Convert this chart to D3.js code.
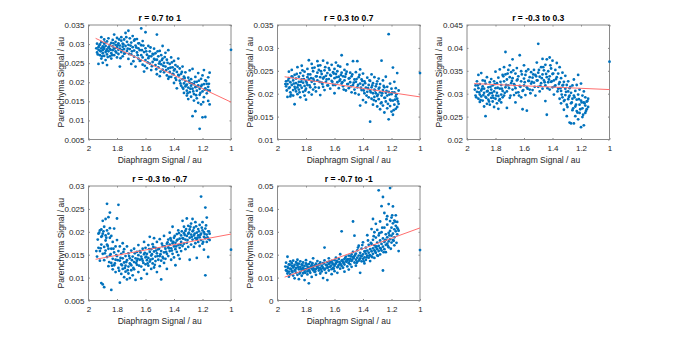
<!DOCTYPE html>
<html>
<head>
<meta charset="utf-8">
<script src="https://cdn.jsdelivr.net/npm/d3@7"></script>
<style>
  body { margin: 0; background: #fff; }
  svg { display: block; font-family: "Liberation Sans", Arial, sans-serif; }
  .tick text { fill: #262626; font-size: 8px; }
</style>
</head>
<body>
<svg id="chart" width="675" height="338"></svg>
<script>
// 5 panels: diaphragm vs parenchyma signal, grouped by correlation range.
// values (approximate)
const titles = ["r = 0.7 to 1", "r = 0.3 to 0.7", "r = -0.3 to 0.3", "r = -0.3 to -0.7", "r = -0.7 to -1"];
const xTicks = [2, 1.8, 1.6, 1.4, 1.2, 1];
const yTicks1 = [0.005, 0.01, 0.015, 0.02, 0.025, 0.03, 0.035];
const yTicks2 = [0.01, 0.015, 0.02, 0.025, 0.03, 0.035];
const yTicks3 = [0.02, 0.025, 0.03, 0.035, 0.04, 0.045];
const yTicks4 = [0.005, 0.01, 0.015, 0.02, 0.025, 0.03];
const yTicks5 = [0, 0.01, 0.02, 0.03, 0.04, 0.05];

// least squares line ends [x, y]
const fit1 = [[1.95, .0315], [1.0, .0148]];
const fit2 = [[1.95, .0237], [1.0, .0193]];
const fit3 = [[1.95, .0322], [1.0, .0309]];
const fit4 = [[1.95, .0140], [1.0, .0195]];
const fit5 = [[1.95, .0102], [1.0, .0317]];

const pts1 = [
[1.94,.0278],[1.93,.0285],[1.93,.0292],[1.92,.0271],[1.92,.0299],[1.92,.0283],[1.91,.0262],[1.91,.0289],[1.91,.0305],[1.90,.0276],[1.90,.0294],[1.90,.0251],[1.90,.0284],[1.89,.0269],[1.89,.0301],[1.89,.0288],[1.89,.0312],[1.88,.0279],[1.88,.0295],[1.88,.0258],[1.87,.0286],[1.87,.0307],[1.87,.0273],[1.86,.0291],[1.86,.0281],[1.86,.0315],[1.85,.0268],[1.85,.0298],[1.85,.0287],[1.84,.0303],[1.84,.0276],[1.84,.0262],[1.83,.0294],[1.83,.0284],[1.83,.0311],[1.82,.0325],[1.82,.0289],[1.82,.0271],[1.81,.0298],[1.81,.0306],[1.81,.0281],[1.80,.0292],[1.80,.0265],[1.80,.0316],[1.79,.0285],[1.79,.0302],[1.79,.0274],[1.78,.0296],[1.78,.0241],[1.78,.0288],[1.77,.0309],[1.77,.0279],[1.77,.0318],[1.76,.0293],[1.76,.0268],[1.76,.0301],[1.75,.0287],[1.75,.0312],[1.75,.0275],[1.93,.0248],[1.87,.0245],[1.94,.0301],[1.91,.0318],
[1.74,.0329],[1.74,.0295],[1.73,.0282],[1.73,.0306],[1.72,.0335],[1.72,.0261],[1.72,.0298],[1.71,.0315],[1.71,.0287],[1.70,.0273],[1.70,.0304],[1.70,.0248],[1.69,.0292],[1.69,.0321],[1.68,.0267],[1.68,.0283],[1.68,.0309],[1.67,.0241],[1.67,.0296],[1.66,.0278],[1.66,.0313],[1.65,.0262],[1.65,.0289],[1.65,.0302],[1.64,.0256],[1.64,.0284],[1.63,.0341],[1.63,.0271],[1.63,.0297],[1.62,.0265],[1.62,.0246],[1.62,.0308],[1.61,.0279],[1.61,.0228],[1.60,.0331],[1.60,.0289],[1.60,.0258],[1.59,.0272],[1.59,.0237],[1.58,.0295],[1.58,.0263],[1.57,.0249],[1.57,.0281],[1.56,.0268],[1.56,.0232],[1.55,.0274],[1.55,.0253],
[1.54,.0261],[1.54,.0288],[1.53,.0245],[1.53,.0276],[1.52,.0325],[1.52,.0259],[1.52,.0221],[1.51,.0268],[1.51,.0239],[1.50,.0282],[1.50,.0254],[1.50,.0216],[1.49,.0247],[1.49,.0271],[1.48,.0233],[1.48,.0262],[1.48,.0295],[1.47,.0251],[1.47,.0226],[1.46,.0241],[1.46,.0277],[1.45,.0218],[1.45,.0259],[1.44,.0236],[1.44,.0284],[1.44,.0209],[1.43,.0248],[1.43,.0227],[1.42,.0265],[1.42,.0214],[1.41,.0239],[1.41,.0222],[1.40,.0256],[1.40,.0198],[1.40,.0231],[1.39,.0211],[1.39,.0245],[1.38,.0227],[1.38,.0184],[1.37,.0219],[1.37,.0262],[1.36,.0204],[1.36,.0236],[1.35,.0191],[1.35,.0222],
[1.34,.0208],[1.34,.0186],[1.34,.0241],[1.33,.0197],[1.33,.0215],[1.33,.0172],[1.32,.0189],[1.32,.0226],[1.32,.0203],[1.31,.0178],[1.31,.0194],[1.31,.0165],[1.30,.0212],[1.30,.0186],[1.30,.0156],[1.29,.0199],[1.29,.0231],[1.29,.0174],[1.28,.0191],[1.28,.0162],[1.28,.0208],[1.27,.0183],[1.27,.0111],[1.27,.0235],[1.26,.0195],[1.26,.0169],[1.26,.0152],[1.25,.0187],[1.25,.0124],[1.25,.0214],[1.24,.0178],[1.24,.0201],[1.24,.0158],[1.23,.0192],[1.23,.0146],[1.23,.0224],[1.22,.0078],[1.22,.0183],[1.22,.0167],[1.21,.0209],[1.21,.0142],[1.21,.0189],[1.20,.0108],[1.20,.0176],[1.20,.0218],[1.19,.0195],[1.19,.0161],[1.19,.0232],[1.18,.0109],[1.18,.0184],[1.18,.0205],[1.17,.0171],[1.17,.0196],[1.16,.0151],[1.16,.0188],[1.16,.0213],[1.15,.0225],[1.15,.0178],[1.15,.0142],[1.0,.0285]
];
const pts1b = [
[1.945,.0289],[1.935,.0273],[1.925,.0296],[1.915,.0281],[1.905,.0268],[1.895,.0292],[1.885,.0304],[1.875,.0282],[1.865,.0266],[1.855,.0293],[1.845,.0285],[1.835,.0271],[1.825,.0302],[1.815,.0289],[1.805,.0278],[1.795,.0297],[1.785,.0312],[1.775,.0263],[1.765,.0284],[1.755,.0299],[1.745,.0276],[1.735,.0318],[1.725,.0288],[1.715,.0274],[1.705,.0296],[1.695,.0281],[1.685,.0255],[1.675,.0312],[1.665,.0291],[1.655,.0271],[1.645,.0302],[1.635,.0257],[1.625,.0284],[1.615,.0296],[1.605,.0243],[1.595,.0281],[1.585,.0252],[1.575,.0268],[1.565,.0291],[1.555,.0242],[1.545,.0273],[1.535,.0259],[1.525,.0234],[1.515,.0281],[1.505,.0249],[1.495,.0228],[1.485,.0258],[1.475,.0243],[1.465,.0266],[1.455,.0232],[1.445,.0251],[1.435,.0214],[1.425,.0238],[1.415,.0252],[1.405,.0221],[1.395,.0234],[1.385,.0206],[1.375,.0241],[1.365,.0218],[1.355,.0197],[1.345,.0227],[1.335,.0183],[1.325,.0211],[1.315,.0192],[1.305,.0171],[1.295,.0204],[1.285,.0183],[1.275,.0197],[1.265,.0176],[1.255,.0201],[1.245,.0166],[1.235,.0189],[1.225,.0204],[1.215,.0172],[1.205,.0193],[1.195,.0148],[1.185,.0181],[1.175,.0203],[1.165,.0179],[1.155,.0196]
];

const pts2 = [
[1.94,.0216],[1.94,.0227],[1.93,.0193],[1.93,.0221],[1.92,.0234],[1.92,.0212],[1.92,.0248],[1.91,.0203],[1.91,.0225],[1.91,.0194],[1.90,.0238],[1.90,.0219],[1.90,.0252],[1.89,.0208],[1.89,.0229],[1.89,.0196],[1.88,.0177],[1.88,.0215],[1.88,.0241],[1.87,.0223],[1.87,.0205],[1.87,.0233],[1.86,.0258],[1.86,.0214],[1.86,.0199],[1.85,.0226],[1.85,.0237],[1.85,.0209],[1.84,.0218],[1.84,.0245],[1.84,.0192],[1.83,.0231],[1.83,.0213],[1.83,.0261],[1.82,.0204],[1.82,.0224],[1.82,.0239],[1.81,.0217],[1.81,.0196],[1.81,.0248],[1.80,.0228],[1.80,.0211],[1.80,.0187],[1.79,.0236],[1.79,.0219],[1.79,.0254],[1.78,.0203],[1.78,.0231],[1.78,.0273],[1.77,.0214],[1.77,.0242],[1.76,.0226],[1.76,.0198],[1.76,.0265],[1.75,.0233],[1.75,.0209],[1.75,.0249],
[1.74,.0221],[1.74,.0257],[1.73,.0238],[1.73,.0205],[1.72,.0271],[1.72,.0229],[1.72,.0246],[1.71,.0213],[1.71,.0252],[1.70,.0236],[1.70,.0197],[1.70,.0262],[1.69,.0224],[1.69,.0243],[1.68,.0272],[1.68,.0215],[1.68,.0233],[1.67,.0251],[1.67,.0208],[1.66,.0239],[1.66,.0226],[1.65,.0267],[1.65,.0218],[1.65,.0245],[1.64,.0232],[1.64,.0256],[1.63,.0211],[1.63,.0241],[1.62,.0228],[1.62,.0263],[1.61,.0247],[1.61,.0219],[1.60,.0254],[1.60,.0234],[1.60,.0201],[1.59,.0243],[1.59,.0268],[1.58,.0225],[1.58,.0249],[1.57,.0237],[1.57,.0212],[1.56,.0259],[1.56,.0231],[1.55,.0284],[1.55,.0222],[1.55,.0246],
[1.54,.0238],[1.54,.0216],[1.53,.0252],[1.53,.0229],[1.52,.0207],[1.52,.0243],[1.51,.0221],[1.51,.0264],[1.50,.0233],[1.50,.0212],[1.49,.0246],[1.49,.0225],[1.48,.0203],[1.48,.0238],[1.47,.0271],[1.47,.0219],[1.46,.0231],[1.46,.0209],[1.45,.0247],[1.45,.0226],[1.44,.0214],[1.44,.0271],[1.43,.0236],[1.43,.0198],[1.42,.0222],[1.42,.0174],[1.42,.0253],[1.41,.0208],[1.41,.0231],[1.40,.0186],[1.40,.0219],[1.40,.0244],[1.39,.0201],[1.39,.0227],[1.38,.0213],[1.38,.0181],[1.37,.0235],[1.37,.0204],[1.36,.0219],[1.36,.0192],[1.35,.0228],[1.35,.0139],[1.35,.0207],
[1.34,.0214],[1.34,.0189],[1.34,.0242],[1.33,.0201],[1.33,.0223],[1.33,.0176],[1.32,.0209],[1.32,.0193],[1.32,.0236],[1.31,.0184],[1.31,.0216],[1.31,.0201],[1.30,.0195],[1.30,.0227],[1.30,.0172],[1.29,.0211],[1.29,.0188],[1.29,.0233],[1.28,.0203],[1.28,.0166],[1.28,.0221],[1.27,.0196],[1.27,.0181],[1.27,.0272],[1.26,.0208],[1.26,.0174],[1.26,.0229],[1.25,.0191],[1.25,.0214],[1.25,.0159],[1.24,.0202],[1.24,.0183],[1.24,.0237],[1.23,.0196],[1.23,.0168],[1.23,.0215],[1.22,.0330],[1.22,.0144],[1.22,.0204],[1.21,.0187],[1.21,.0222],[1.21,.0173],[1.20,.0199],[1.20,.0161],[1.20,.0211],[1.19,.0257],[1.19,.0185],[1.19,.0154],[1.18,.0203],[1.18,.0176],[1.18,.0226],[1.17,.0194],[1.17,.0167],[1.17,.0212],[1.16,.0189],[1.16,.0245],[1.16,.0171],[1.15,.0207],[1.15,.0178],[1.0,.0245]
];
const pts2b = [
[1.945,.0221],[1.935,.0207],[1.925,.0229],[1.915,.0214],[1.905,.0198],[1.895,.0236],[1.885,.0222],[1.875,.0211],[1.865,.0243],[1.855,.0219],[1.845,.0203],[1.835,.0226],[1.825,.0251],[1.815,.0232],[1.805,.0207],[1.795,.0224],[1.785,.0242],[1.775,.0218],[1.765,.0234],[1.755,.0256],[1.745,.0229],[1.735,.0214],[1.725,.0238],[1.715,.0261],[1.705,.0226],[1.695,.0249],[1.685,.0221],[1.675,.0236],[1.665,.0258],[1.655,.0231],[1.645,.0218],[1.635,.0252],[1.625,.0239],[1.615,.0226],[1.605,.0244],[1.595,.0219],[1.585,.0236],[1.575,.0261],[1.565,.0228],[1.555,.0241],[1.545,.0225],[1.535,.0209],[1.525,.0237],[1.515,.0248],[1.505,.0221],[1.495,.0234],[1.485,.0216],[1.475,.0242],[1.465,.0224],[1.455,.0201],[1.445,.0232],[1.435,.0219],[1.425,.0241],[1.415,.0213],[1.405,.0228],[1.395,.0207],[1.385,.0223],[1.375,.0196],[1.365,.0212],[1.355,.0229],[1.345,.0203],[1.335,.0218],[1.325,.0186],[1.315,.0207],[1.305,.0221],[1.295,.0198],[1.285,.0213],[1.275,.0179],[1.265,.0201],[1.255,.0217],[1.245,.0191],[1.235,.0206],[1.225,.0178],[1.215,.0198],[1.205,.0185],[1.195,.0203],[1.185,.0164],[1.175,.0187],[1.165,.0199],[1.155,.0183]
];

const pts3 = [
[1.94,.0296],[1.94,.0318],[1.93,.0327],[1.93,.0304],[1.92,.0289],[1.92,.0312],[1.92,.0341],[1.91,.0298],[1.91,.0321],[1.91,.0282],[1.90,.0307],[1.90,.0345],[1.90,.0294],[1.89,.0316],[1.89,.0285],[1.89,.0329],[1.88,.0302],[1.88,.0272],[1.88,.0311],[1.87,.0251],[1.87,.0293],[1.87,.0322],[1.86,.0305],[1.86,.0278],[1.86,.0336],[1.85,.0297],[1.85,.0314],[1.85,.0287],[1.84,.0325],[1.84,.0301],[1.84,.0276],[1.83,.0309],[1.83,.0291],[1.83,.0332],[1.82,.0296],[1.82,.0318],[1.82,.0283],[1.81,.0305],[1.81,.0327],[1.81,.0271],[1.80,.0312],[1.80,.0289],[1.80,.0348],[1.79,.0302],[1.79,.0279],[1.79,.0323],[1.78,.0295],[1.78,.0335],[1.78,.0267],[1.77,.0311],[1.77,.0288],[1.77,.0353],[1.76,.0298],[1.76,.0319],[1.76,.0281],[1.75,.0306],[1.75,.0341],[1.75,.0292],
[1.74,.0327],[1.74,.0358],[1.74,.0296],[1.73,.0314],[1.73,.0391],[1.73,.0342],[1.72,.0305],[1.72,.0331],[1.72,.0269],[1.71,.0352],[1.71,.0318],[1.70,.0336],[1.70,.0291],[1.70,.0362],[1.69,.0323],[1.69,.0347],[1.68,.0309],[1.68,.0334],[1.68,.0375],[1.67,.0297],[1.67,.0321],[1.66,.0344],[1.66,.0281],[1.66,.0312],[1.65,.0329],[1.65,.0356],[1.64,.0303],[1.64,.0338],[1.63,.0384],[1.63,.0317],[1.62,.0292],[1.62,.0327],[1.62,.0349],[1.61,.0306],[1.61,.0266],[1.60,.0333],[1.60,.0318],[1.60,.0362],[1.59,.0297],[1.59,.0341],[1.58,.0314],[1.58,.0263],[1.57,.0328],[1.57,.0353],[1.56,.0309],[1.56,.0336],[1.55,.0322],[1.55,.0347],
[1.54,.0335],[1.54,.0308],[1.53,.0352],[1.53,.0324],[1.52,.0341],[1.52,.0296],[1.51,.0368],[1.51,.0329],[1.50,.0409],[1.50,.0315],[1.50,.0346],[1.49,.0337],[1.49,.0305],[1.48,.0358],[1.48,.0323],[1.47,.0342],[1.47,.0311],[1.47,.0376],[1.46,.0329],[1.46,.0351],[1.45,.0318],[1.45,.0363],[1.45,.0284],[1.44,.0336],[1.44,.0254],[1.44,.0375],[1.43,.0325],[1.43,.0349],[1.42,.0309],[1.42,.0379],[1.42,.0338],[1.41,.0326],[1.41,.0355],[1.40,.0314],[1.40,.0343],[1.40,.0372],[1.39,.0329],[1.39,.0298],[1.38,.0352],[1.38,.0318],[1.37,.0336],[1.37,.0367],[1.36,.0311],[1.36,.0344],[1.35,.0325],[1.35,.0289],[1.35,.0358],
[1.34,.0334],[1.34,.0306],[1.34,.0279],[1.33,.0318],[1.33,.0346],[1.33,.0292],[1.32,.0326],[1.32,.0284],[1.32,.0265],[1.31,.0311],[1.31,.0339],[1.31,.0297],[1.30,.0319],[1.30,.0276],[1.30,.0251],[1.29,.0305],[1.29,.0288],[1.29,.0327],[1.28,.0237],[1.28,.0296],[1.28,.0312],[1.27,.0235],[1.27,.0279],[1.27,.0302],[1.26,.0318],[1.26,.0264],[1.26,.0289],[1.25,.0235],[1.25,.0296],[1.25,.0331],[1.24,.0272],[1.24,.0306],[1.24,.0251],[1.23,.0287],[1.23,.0319],[1.23,.0262],[1.22,.0298],[1.22,.0244],[1.22,.0341],[1.21,.0276],[1.21,.0309],[1.21,.0258],[1.20,.0285],[1.20,.0227],[1.20,.0322],[1.19,.0268],[1.19,.0296],[1.19,.0249],[1.18,.0281],[1.18,.0231],[1.18,.0305],[1.17,.0274],[1.17,.0258],[1.17,.0292],[1.16,.0283],[1.16,.0266],[1.15,.0289],[1.15,.0271],[1.0,.0370]
];
const pts3b = [
[1.945,.0309],[1.935,.0292],[1.925,.0318],[1.915,.0303],[1.905,.0286],[1.895,.0311],[1.885,.0297],[1.875,.0328],[1.865,.0291],[1.855,.0306],[1.845,.0283],[1.835,.0315],[1.825,.0302],[1.815,.0291],[1.805,.0321],[1.795,.0296],[1.785,.0313],[1.775,.0285],[1.765,.0326],[1.755,.0311],[1.745,.0338],[1.735,.0302],[1.725,.0319],[1.715,.0344],[1.705,.0312],[1.695,.0296],[1.685,.0328],[1.675,.0351],[1.665,.0318],[1.655,.0302],[1.645,.0331],[1.635,.0296],[1.625,.0315],[1.615,.0342],[1.605,.0308],[1.595,.0325],[1.585,.0349],[1.575,.0311],[1.565,.0328],[1.555,.0301],[1.545,.0326],[1.535,.0342],[1.525,.0315],[1.515,.0338],[1.505,.0329],[1.495,.0352],[1.485,.0317],[1.475,.0334],[1.465,.0358],[1.455,.0325],[1.445,.0343],[1.435,.0312],[1.425,.0331],[1.415,.0362],[1.405,.0327],[1.395,.0344],[1.385,.0316],[1.375,.0332],[1.365,.0305],[1.355,.0321],[1.345,.0312],[1.335,.0298],[1.325,.0319],[1.315,.0286],[1.305,.0304],[1.295,.0271],[1.285,.0293],[1.275,.0315],[1.265,.0281],[1.255,.0268],[1.245,.0292],[1.235,.0276],[1.225,.0259],[1.215,.0288],[1.205,.0266],[1.195,.0281],[1.185,.0254],[1.175,.0279],[1.165,.0262],[1.155,.0284]
];

const pts4 = [
[1.94,.0146],[1.93,.0165],[1.93,.0196],[1.92,.0158],[1.92,.0203],[1.92,.0137],[1.91,.0189],[1.91,.0172],[1.91,.0088],[1.91,.0205],[1.90,.0152],[1.90,.0224],[1.90,.0196],[1.90,.0085],[1.89,.0167],[1.89,.0211],[1.89,.0138],[1.89,.0079],[1.88,.0192],[1.88,.0159],[1.88,.0228],[1.88,.0181],[1.87,.0261],[1.87,.0145],[1.87,.0203],[1.87,.0172],[1.86,.0196],[1.86,.0125],[1.86,.0232],[1.86,.0163],[1.85,.0187],[1.85,.0242],[1.85,.0148],[1.85,.0208],
[1.84,.0163],[1.84,.0132],[1.84,.0073],[1.84,.0191],[1.83,.0141],[1.83,.0178],[1.83,.0118],[1.82,.0155],[1.82,.0207],[1.82,.0127],[1.81,.0168],[1.81,.0139],[1.81,.0112],[1.80,.0182],[1.80,.0147],[1.80,.0229],[1.79,.0121],[1.79,.0158],[1.79,.0259],[1.78,.0137],[1.78,.0168],[1.78,.0089],[1.77,.0129],[1.77,.0152],[1.77,.0108],[1.76,.0142],[1.76,.0119],[1.76,.0175],[1.75,.0133],[1.75,.0101],[1.75,.0162],[1.74,.0126],[1.74,.0147],[1.74,.0113],[1.73,.0138],[1.73,.0168],[1.73,.0096],[1.72,.0124],[1.72,.0153],[1.72,.0109],[1.71,.0142],[1.71,.0131],[1.71,.0099],[1.70,.0159],[1.70,.0127],[1.70,.0116],[1.69,.0146],[1.69,.0105],[1.68,.0134],[1.68,.0163],[1.68,.0118],[1.67,.0142],[1.67,.0095],[1.66,.0128],[1.66,.0156],[1.66,.0137],[1.65,.0149],[1.65,.0112],[1.65,.0171],
[1.64,.0139],[1.64,.0158],[1.63,.0124],[1.63,.0146],[1.63,.0098],[1.62,.0163],[1.62,.0137],[1.61,.0151],[1.61,.0117],[1.61,.0178],[1.60,.0144],[1.60,.0129],[1.60,.0165],[1.59,.0152],[1.59,.0108],[1.59,.0138],[1.58,.0171],[1.58,.0143],[1.58,.0126],[1.57,.0156],[1.57,.0135],[1.57,.0189],[1.56,.0148],[1.56,.0119],[1.56,.0162],[1.55,.0141],[1.55,.0173],[1.55,.0131],[1.54,.0157],[1.54,.0122],[1.54,.0186],[1.53,.0146],[1.53,.0165],[1.53,.0136],[1.52,.0153],[1.52,.0112],[1.52,.0178],[1.51,.0162],[1.51,.0139],[1.50,.0147],[1.50,.0184],[1.50,.0125],[1.49,.0158],[1.49,.0137],[1.49,.0096],[1.48,.0169],[1.48,.0145],[1.47,.0155],[1.47,.0191],[1.47,.0132],[1.46,.0163],[1.46,.0141],[1.45,.0174],[1.45,.0152],[1.45,.0119],
[1.44,.0166],[1.44,.0183],[1.44,.0147],[1.43,.0172],[1.43,.0158],[1.43,.0198],[1.42,.0164],[1.42,.0139],[1.42,.0181],[1.41,.0175],[1.41,.0152],[1.41,.0211],[1.40,.0168],[1.40,.0187],[1.40,.0144],[1.39,.0176],[1.39,.0162],[1.39,.0127],[1.38,.0181],[1.38,.0156],[1.38,.0195],[1.37,.0171],[1.37,.0149],[1.37,.0203],[1.36,.0185],[1.36,.0165],[1.36,.0141],[1.35,.0178],[1.35,.0192],[1.35,.0158],[1.34,.0224],[1.34,.0186],[1.34,.0169],[1.33,.0197],[1.33,.0174],[1.33,.0211],[1.32,.0183],[1.32,.0162],[1.32,.0202],[1.31,.0191],[1.31,.0229],[1.31,.0176],[1.30,.0196],[1.30,.0167],[1.30,.0213],
[1.29,.0187],[1.29,.0205],[1.29,.0139],[1.28,.0194],[1.28,.0218],[1.28,.0172],[1.27,.0183],[1.27,.0201],[1.27,.0228],[1.26,.0192],[1.26,.0167],[1.26,.0209],[1.25,.0186],[1.25,.0221],[1.25,.0175],[1.24,.0198],[1.24,.0183],[1.24,.0143],[1.23,.0206],[1.23,.0178],[1.23,.0192],[1.22,.0188],[1.22,.0215],[1.22,.0169],[1.21,.0277],[1.21,.0196],[1.21,.0182],[1.20,.0203],[1.20,.0174],[1.20,.0221],[1.19,.0189],[1.19,.0199],[1.19,.0161],[1.18,.0253],[1.18,.0105],[1.18,.0186],[1.18,.0207],[1.17,.0194],[1.17,.0178],[1.17,.0231],[1.16,.0185],[1.16,.0145],[1.16,.0201],[1.15,.0182],[1.15,.0196],[1.0,.0161]
];
const pts4b = [
[1.945,.0158],[1.935,.0183],[1.925,.0198],[1.915,.0164],[1.905,.0191],[1.895,.0201],[1.885,.0153],[1.875,.0187],[1.865,.0169],[1.855,.0134],[1.845,.0151],[1.835,.0126],[1.825,.0163],[1.815,.0131],[1.805,.0149],[1.795,.0138],[1.785,.0115],[1.775,.0143],[1.765,.0127],[1.755,.0156],[1.745,.0121],[1.735,.0134],[1.725,.0116],[1.715,.0147],[1.705,.0129],[1.695,.0138],[1.685,.0121],[1.675,.0153],[1.665,.0132],[1.655,.0141],[1.645,.0126],[1.635,.0155],[1.625,.0141],[1.615,.0132],[1.605,.0154],[1.595,.0146],[1.585,.0131],[1.575,.0162],[1.565,.0139],[1.555,.0151],[1.545,.0167],[1.535,.0128],[1.525,.0159],[1.515,.0147],[1.505,.0163],[1.495,.0151],[1.485,.0174],[1.475,.0142],[1.465,.0168],[1.455,.0156],[1.445,.0177],[1.435,.0164],[1.425,.0186],[1.415,.0159],[1.405,.0178],[1.395,.0191],[1.385,.0168],[1.375,.0183],[1.365,.0197],[1.355,.0172],[1.345,.0201],[1.335,.0185],[1.325,.0193],[1.315,.0206],[1.305,.0182],[1.295,.0198],[1.285,.0211],[1.275,.0189],[1.265,.0203],[1.255,.0196],[1.245,.0212],[1.235,.0187],[1.225,.0201],[1.215,.0193],[1.205,.0209],[1.195,.0178],[1.185,.0195],[1.175,.0214],[1.165,.0188],[1.155,.0201]
];

const pts5 = [
[1.94,.0132],[1.94,.0165],[1.93,.0118],[1.93,.0191],[1.93,.0147],[1.92,.0126],[1.92,.0158],[1.92,.0104],[1.91,.0139],[1.91,.0171],[1.91,.0115],[1.90,.0152],[1.90,.0128],[1.90,.0163],[1.89,.0109],[1.89,.0144],[1.89,.0174],[1.88,.0131],[1.88,.0156],[1.88,.0097],[1.87,.0141],[1.87,.0168],[1.87,.0122],[1.86,.0153],[1.86,.0112],[1.86,.0178],[1.85,.0136],[1.85,.0161],[1.85,.0093],[1.84,.0147],[1.84,.0124],[1.84,.0171],[1.83,.0133],[1.83,.0158],[1.83,.0108],[1.82,.0142],[1.82,.0166],[1.82,.0119],[1.81,.0151],[1.81,.0129],[1.81,.0089],[1.80,.0162],[1.80,.0137],[1.80,.0176],[1.79,.0114],[1.79,.0148],[1.79,.0127],[1.78,.0159],[1.78,.0134],[1.78,.0075],[1.77,.0145],[1.77,.0168],[1.77,.0121],[1.76,.0139],[1.76,.0155],[1.76,.0103],[1.75,.0147],[1.75,.0132],[1.75,.0184],[1.74,.0125],[1.74,.0153],[1.73,.0138],[1.73,.0161],[1.73,.0112],[1.72,.0146],[1.72,.0172],[1.71,.0131],[1.71,.0157],[1.70,.0142],[1.70,.0118],[1.70,.0166],
[1.69,.0152],[1.69,.0127],[1.68,.0163],[1.68,.0141],[1.68,.0098],[1.67,.0175],[1.67,.0134],[1.67,.0231],[1.66,.0155],[1.66,.0121],[1.65,.0168],[1.65,.0143],[1.65,.0089],[1.64,.0159],[1.64,.0131],[1.64,.0184],[1.63,.0147],[1.63,.0166],[1.62,.0137],[1.62,.0173],[1.62,.0115],[1.61,.0158],[1.61,.0142],[1.60,.0176],[1.60,.0151],[1.60,.0128],[1.59,.0164],[1.59,.0187],[1.58,.0145],[1.58,.0169],[1.58,.0121],[1.57,.0156],[1.57,.0181],[1.56,.0139],[1.56,.0162],[1.56,.0202],[1.55,.0151],[1.55,.0174],[1.55,.0302],[1.54,.0168],[1.54,.0143],[1.53,.0181],[1.53,.0157],[1.53,.0126],[1.52,.0171],[1.52,.0192],[1.51,.0149],[1.51,.0178],[1.50,.0163],[1.50,.0196],[1.50,.0135],
[1.49,.0182],[1.49,.0158],[1.48,.0201],[1.48,.0173],[1.48,.0147],[1.47,.0189],[1.47,.0345],[1.47,.0212],[1.46,.0166],[1.46,.0194],[1.46,.0283],[1.45,.0178],[1.45,.0205],[1.45,.0152],[1.44,.0187],[1.44,.0219],[1.44,.0169],[1.43,.0196],[1.43,.0174],[1.43,.0239],[1.42,.0184],[1.42,.0208],[1.42,.0121],[1.41,.0193],[1.41,.0226],[1.41,.0171],[1.40,.0201],[1.40,.0182],[1.40,.0254],[1.39,.0214],[1.39,.0188],[1.39,.0162],[1.38,.0205],[1.38,.0231],[1.38,.0177],[1.37,.0196],[1.37,.0218],[1.37,.0285],[1.36,.0209],[1.36,.0187],[1.36,.0243],[1.35,.0198],[1.35,.0224],[1.35,.0172],
[1.34,.0215],[1.34,.0247],[1.34,.0193],[1.34,.0312],[1.33,.0228],[1.33,.0204],[1.33,.0265],[1.33,.0356],[1.32,.0219],[1.32,.0241],[1.32,.0186],[1.32,.0298],[1.31,.0232],[1.31,.0208],[1.31,.0275],[1.31,.0335],[1.30,.0224],[1.30,.0253],[1.30,.0197],[1.30,.0308],[1.29,.0238],[1.29,.0216],[1.29,.0284],[1.29,.0481],[1.28,.0229],[1.28,.0262],[1.28,.0345],[1.28,.0201],[1.27,.0247],[1.27,.0218],[1.27,.0298],[1.27,.0412],[1.26,.0235],[1.26,.0271],[1.26,.0131],[1.26,.0452],[1.25,.0256],[1.25,.0224],[1.25,.0318],[1.25,.0382],[1.24,.0243],[1.24,.0289],[1.24,.0265],[1.24,.0211],[1.23,.0276],[1.23,.0331],[1.23,.0248],[1.23,.0368],[1.22,.0258],[1.22,.0295],[1.22,.0421],[1.22,.0232],[1.21,.0268],[1.21,.0347],[1.21,.0491],[1.21,.0304],[1.20,.0283],[1.20,.0253],[1.20,.0362],[1.20,.0318],[1.19,.0292],[1.19,.0411],[1.19,.0264],[1.19,.0337],[1.18,.0311],[1.18,.0276],[1.18,.0349],[1.18,.0241],[1.17,.0302],[1.17,.0326],[1.17,.0372],[1.16,.0289],[1.16,.0318],[1.16,.0343],[1.15,.0216],[1.15,.0305],[1.0,.0220]
];
const pts5b = [
[1.945,.0148],[1.935,.0129],[1.925,.0141],[1.915,.0156],[1.905,.0137],[1.895,.0124],[1.885,.0149],[1.875,.0133],[1.865,.0162],[1.855,.0145],[1.845,.0118],[1.835,.0139],[1.825,.0153],[1.815,.0136],[1.805,.0121],[1.795,.0157],[1.785,.0142],[1.775,.0128],[1.765,.0149],[1.755,.0163],[1.745,.0138],[1.735,.0127],[1.725,.0152],[1.715,.0143],[1.705,.0159],[1.695,.0136],[1.685,.0148],[1.675,.0162],[1.665,.0139],[1.655,.0154],[1.645,.0145],[1.635,.0171],[1.625,.0152],[1.615,.0164],[1.605,.0139],[1.595,.0158],[1.585,.0173],[1.575,.0149],[1.565,.0168],[1.555,.0157],[1.545,.0176],[1.535,.0163],[1.525,.0185],[1.515,.0169],[1.505,.0181],[1.495,.0172],[1.485,.0193],[1.475,.0178],[1.465,.0186],[1.455,.0199],
[1.445,.0164],[1.435,.0231],[1.425,.0178],[1.415,.0196],[1.405,.0242],[1.395,.0171],[1.385,.0215],[1.375,.0188],[1.365,.0262],[1.355,.0196],[1.345,.0252],[1.335,.0189],[1.325,.0281],[1.315,.0214],[1.305,.0236],[1.295,.0195],[1.285,.0294],[1.275,.0226],[1.265,.0318],[1.255,.0211],[1.245,.0263],[1.235,.0355],[1.225,.0238],[1.215,.0284],[1.205,.0226],[1.195,.0372],[1.185,.0261],[1.175,.0344],[1.165,.0252],[1.155,.0312]
];

const panels = [
  { title: titles[0], pts: pts1.concat(pts1b), fit: fit1, yTicks: yTicks1, col: 0, row: 0 },
  { title: titles[1], pts: pts2.concat(pts2b), fit: fit2, yTicks: yTicks2, col: 1, row: 0 },
  { title: titles[2], pts: pts3.concat(pts3b), fit: fit3, yTicks: yTicks3, col: 2, row: 0 },
  { title: titles[3], pts: pts4.concat(pts4b), fit: fit4, yTicks: yTicks4, col: 0, row: 1 },
  { title: titles[4], pts: pts5.concat(pts5b), fit: fit5, yTicks: yTicks5, col: 1, row: 1 },
];

const colX = [88.5, 277.5, 467];
const rowY = [25, 186];
const W = 142.5, H = 114.5;
const BLUE = "#0072bd", RED = "#ff6e6e", AXIS = "#8a8a8a", TXT = "#262626";

const svg = d3.select("#chart");
const fmt = (v) => String(+v.toFixed(4));

panels.forEach((p) => {
  const g = svg.append("g").attr("transform", `translate(${colX[p.col]},${rowY[p.row]})`);
  const x = d3.scaleLinear().domain([2, 1]).range([0, W]);
  const y = d3.scaleLinear().domain(d3.extent(p.yTicks)).range([H, 0]);

  // inward ticks, MATLAB style, on all four sides
  const tl = 1.5;
  g.append("g").attr("transform", `translate(0,${H})`)
    .call(d3.axisBottom(x).tickValues(xTicks).tickFormat(fmt).tickSize(-tl).tickPadding(6));
  g.append("g").call(d3.axisTop(x).tickValues(xTicks).tickFormat("").tickSize(-tl));
  g.append("g").call(d3.axisLeft(y).tickValues(p.yTicks).tickFormat(fmt).tickSize(-tl).tickPadding(4));
  g.append("g").attr("transform", `translate(${W},0)`)
    .call(d3.axisRight(y).tickValues(p.yTicks).tickFormat("").tickSize(-tl));
  g.selectAll(".domain").remove();
  g.selectAll(".tick line").attr("stroke", AXIS);

  g.append("rect").attr("width", W).attr("height", H)
    .attr("fill", "none").attr("stroke", AXIS).attr("stroke-width", 1);

  g.append("g").selectAll("circle").data(p.pts).join("circle")
    .attr("cx", (d) => x(d[0])).attr("cy", (d) => y(d[1]))
    .attr("r", 1.4).attr("fill", BLUE);

  g.append("path").datum(p.fit)
    .attr("d", d3.line().x((d) => x(d[0])).y((d) => y(d[1])))
    .attr("stroke", RED).attr("stroke-width", 1).attr("fill", "none");

  g.append("text").attr("x", W / 2).attr("y", -4).attr("text-anchor", "middle")
    .attr("font-size", 8.5).attr("font-weight", "bold").attr("fill", "#000").text(p.title);
  g.append("text").attr("x", W / 2).attr("y", H + 23).attr("text-anchor", "middle")
    .attr("font-size", 8.5).attr("fill", TXT).text("Diaphragm Signal / au");
  g.append("text").attr("transform", `translate(-25,${H / 2}) rotate(-90)`)
    .attr("text-anchor", "middle").attr("font-size", 8.5).attr("fill", TXT)
    .text("Parenchyma Signal / au");
});
</script>
</body>
</html>
